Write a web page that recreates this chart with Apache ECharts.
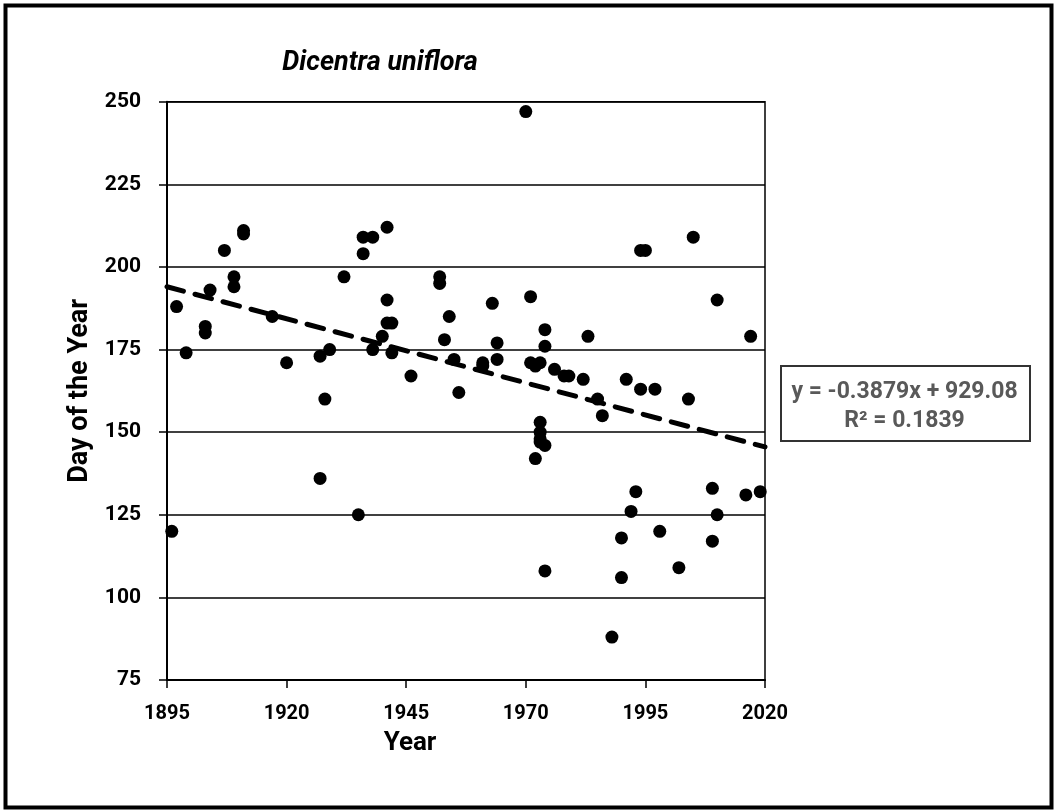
<!DOCTYPE html>
<html><head><meta charset="utf-8">
<script src="https://cdn.jsdelivr.net/npm/echarts@6/dist/echarts.min.js"></script>
<style>html,body{margin:0;padding:0;background:#fff}#c{width:1054px;height:812px}</style>
</head><body><div id="c"></div><script>
const years = [1896,1897,1899,1903,1903,1904,1907,1909,1909,1911,1911,1917,1920,1927,1927,1928,1929,1932,1935,1936,1936,1938,1938,1940,1941,1941,1941,1942,1942,1946,1952,1952,1953,1954,1955,1956,1961,1961,1963,1964,1964,1970,1971,1971,1972,1972,1973,1973,1973,1973,1973,1974,1974,1974,1974,1976,1978,1979,1982,1983,1985,1986,1988,1990,1990,1991,1992,1993,1994,1995,1994,1997,1998,2002,2004,2005,2009,2009,2010,2010,2016,2017,2019];
const days  = [120,188,174,182,180,193,205,197,194,211,210,185,171,173,136,160,175,197,125,209,204,209,175,179,212,190,183,183,174,167,197,195,178,185,172,162,171,170,189,177,172,247,191,171,170,142,171,153,150,148,147,146,181,176,108,169,167,167,166,179,160,155,88,118,106,166,126,132,205,205,163,163,120,109,160,209,133,117,125,190,131,179,132];
const xTicks = [1895,1920,1945,1970,1995,2020];
const yTicks = [75,100,125,150,175,200,225,250];
const trendSlope = -0.3879;
const trendIntercept = 929.08;
const rSquared = 0.1839;
const titleText = 'Dicentra uniflora';

const points = years.map((y,i)=>[y, days[i]]);
const xMin = xTicks[0], xMax = xTicks[xTicks.length-1];
const trend = [[xMin, trendSlope*xMin+trendIntercept],[xMax, trendSlope*xMax+trendIntercept]];
const FONT = '"Liberation Sans Narrow", Roboto, sans-serif';

const chart = echarts.init(document.getElementById('c'), null, {renderer:'canvas'});
chart.setOption({
  animation:false,
  backgroundColor:'#fff',
  title:{text:titleText, left:375, top:45, textAlign:'center',
    textStyle:{fontFamily:FONT, fontSize:27, fontWeight:'bold', fontStyle:'italic', color:'#000'}},
  grid:{left:167, right:289, top:101.7, bottom:132, show:true, borderColor:'#000', borderWidth:1.5, backgroundColor:'transparent'},
  xAxis:{type:'value', min:xMin, max:xMax,
    name:'Year', nameLocation:'middle', nameGap:50,
    nameTextStyle:{fontFamily:FONT, fontSize:26, fontWeight:'bold', color:'#000', padding:[0,112,0,0]},
    axisLine:{show:true, onZero:false, lineStyle:{color:'#000', width:2}},
    axisTick:{show:true, length:8, lineStyle:{color:'#000', width:1.5}, customValues:xTicks},
    axisLabel:{margin:24, fontFamily:FONT, fontSize:20, fontWeight:'bold', color:'#000', customValues:xTicks, formatter:(v)=>String(v)},
    splitLine:{show:false}},
  yAxis:{type:'value', min:yTicks[0], max:yTicks[yTicks.length-1], interval:25,
    name:'Day of the Year', nameLocation:'middle', nameGap:70, nameRotate:90,
    nameTextStyle:{fontFamily:FONT, fontSize:27, fontWeight:'bold', color:'#000'},
    axisLine:{show:true, onZero:false, lineStyle:{color:'#000', width:2}},
    axisTick:{show:true, inside:false, length:8, lineStyle:{color:'#000', width:1.5}},
    axisLabel:{margin:26, fontFamily:FONT, fontSize:21, fontWeight:'bold', color:'#000'},
    splitLine:{show:true, lineStyle:{color:'#000', width:1.5}}},
  series:[
    {type:'scatter', data:points, symbol:'circle', symbolSize:13, itemStyle:{color:'#000', opacity:1}, z:3},
    {type:'line', data:trend, symbol:'none', lineStyle:{color:'#000', width:5, type:[17,12], cap:'round'}, z:2}
  ],
  graphic:[
    {type:'rect', left:3, top:3, shape:{width:1046, height:802}, style:{fill:'none', stroke:'#000', lineWidth:4}, z:100},
    {type:'rect', left:780, top:365, shape:{width:249, height:75}, style:{fill:'#fff', stroke:'#333', lineWidth:2}, z:100},
    {type:'text', x:904.5, y:392, style:{text:'y = ' + trendSlope + 'x + ' + trendIntercept.toFixed(2), textAlign:'center', textVerticalAlign:'middle', font:'bold 23px "Liberation Sans Narrow", Roboto, sans-serif', fill:'#595959'}, z:101},
    {type:'text', x:904.5, y:421, style:{text:'R² = ' + rSquared, textAlign:'center', textVerticalAlign:'middle', font:'bold 23px "Liberation Sans Narrow", Roboto, sans-serif', fill:'#595959'}, z:101}
  ]
});
</script></body></html>
